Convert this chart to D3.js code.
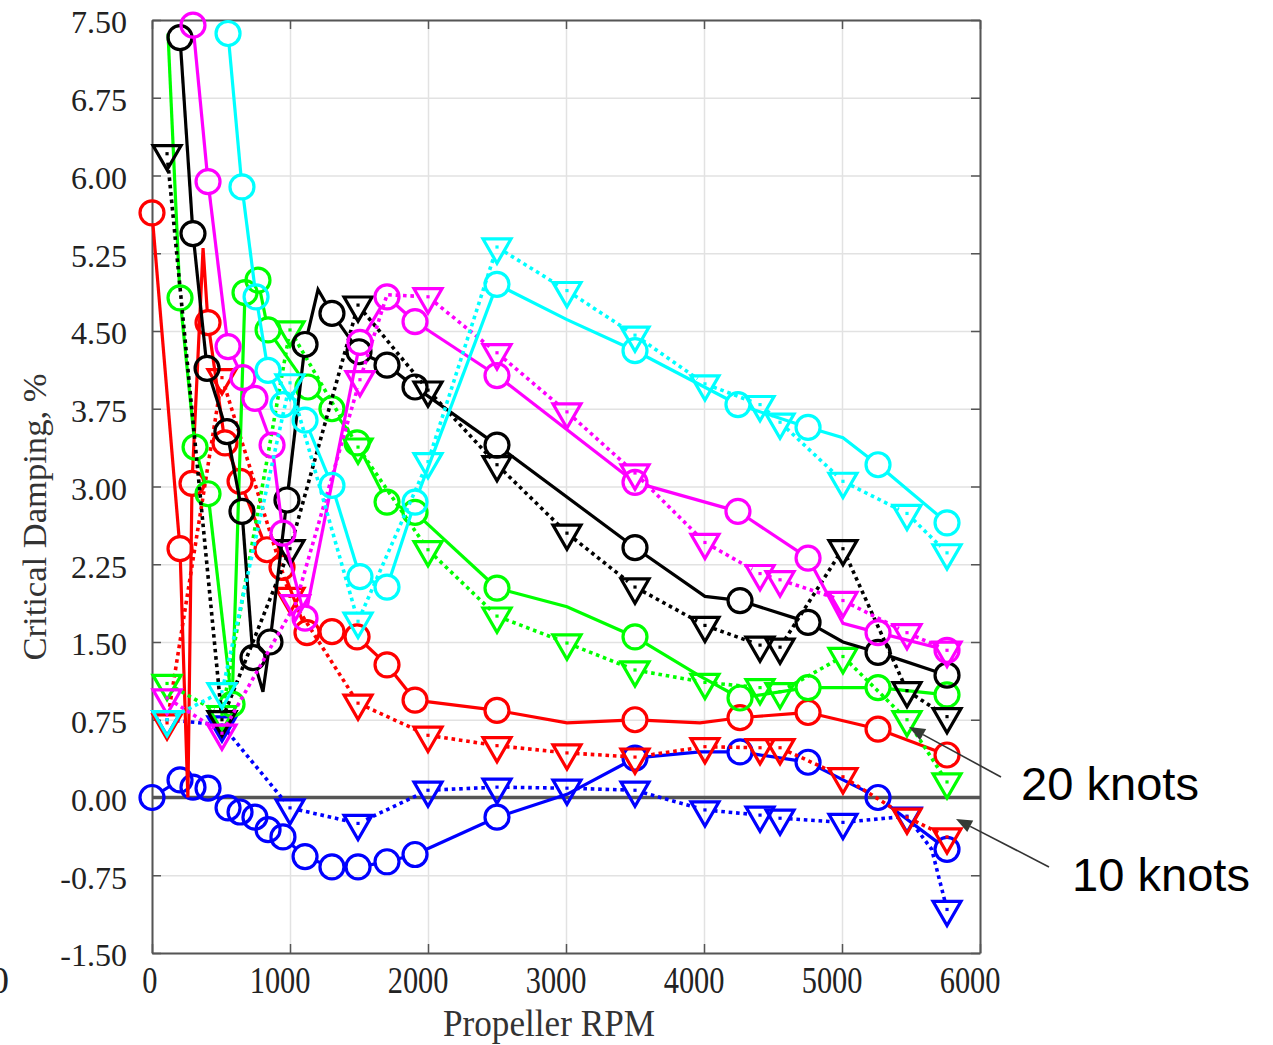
<!DOCTYPE html>
<html><head><meta charset="utf-8">
<script src="https://cdn.jsdelivr.net/npm/d3@7"></script>
<style>body{margin:0;background:#fff} svg{display:block}</style>
</head><body><svg id="c" width="1273" height="1045"></svg>
<script>
// ---------------- data ----------------
const xTicks = [0, 1000, 2000, 3000, 4000, 5000, 6000];
const yTicks = [-1.5, -0.75, 0, 0.75, 1.5, 2.25, 3, 3.75, 4.5, 5.25, 6, 6.75, 7.5];
// each point: [propeller RPM, critical damping %, marker drawn (1) / not (0)]
const blueSolid = [[0,0.00,1],[203,0.17,1],[297,0.10,1],[406,0.09,1],[551,-0.10,1],[638,-0.14,1],[746,-0.19,1],[841,-0.31,1],[949,-0.38,1],[1109,-0.57,1],[1304,-0.67,1],[1493,-0.67,1],[1703,-0.62,1],[1906,-0.55,1],[2500,-0.19,1],[3007,0.03,0],[3500,0.38,1],[3971,0.44,0],[4261,0.44,1],[4754,0.34,1],[5261,0.00,1],[5761,-0.50,1]];
const blueDotted = [[109,0.75,1],[507,0.70,1],[1000,-0.10,1],[1493,-0.25,1],[2000,0.07,1],[2500,0.10,1],[3007,0.09,1],[3500,0.07,1],[4007,-0.12,1],[4406,-0.17,1],[4551,-0.20,1],[5007,-0.24,1],[5471,-0.18,1],[5650,-0.50,0],[5761,-1.08,1]];
const redSolid = [[0,5.64,1],[203,2.40,1],[260,0.00,0],[290,3.03,1],[370,5.30,0],[406,4.58,1],[529,3.42,1],[638,3.05,1],[833,2.39,1],[942,2.22,1],[1123,1.59,1],[1304,1.60,1],[1486,1.55,1],[1703,1.28,1],[1906,0.94,1],[2500,0.84,1],[3007,0.72,0],[3500,0.75,1],[3971,0.72,0],[4261,0.77,1],[4754,0.82,1],[5261,0.66,1],[5761,0.41,1]];
const redDotted = [[109,0.72,1],[507,4.05,1],[1000,1.94,1],[1493,0.91,1],[2000,0.60,1],[2500,0.50,1],[3007,0.43,1],[3500,0.39,1],[4007,0.49,1],[4406,0.48,1],[4551,0.48,1],[5007,0.20,1],[5471,-0.19,1],[5761,-0.38,1]];
const greenSolid = [[116,7.37,0],[203,4.82,1],[312,3.38,1],[406,2.93,1],[580,0.90,1],[674,4.87,1],[768,4.99,1],[841,4.51,1],[1130,3.96,1],[1304,3.75,1],[1486,3.42,1],[1703,2.85,1],[1906,2.75,1],[2500,2.02,1],[3007,1.84,0],[3500,1.55,1],[3971,1.17,0],[4261,0.96,1],[4754,1.06,1],[5261,1.06,1],[5761,0.99,1]];
const greenDotted = [[109,1.10,1],[507,0.80,1],[1000,4.51,1],[1493,3.38,1],[2000,2.39,1],[2500,1.75,1],[3007,1.49,1],[3500,1.23,1],[4007,1.11,1],[4406,1.06,1],[4551,1.02,1],[5007,1.36,1],[5471,0.75,1],[5761,0.15,1]];
const blackSolid = [[203,7.33,1],[297,5.44,1],[399,4.14,1],[543,3.53,1],[652,2.76,1],[732,1.35,1],[804,1.02,0],[855,1.50,1],[978,2.87,1],[1109,4.37,1],[1203,4.90,0],[1304,4.67,1],[1500,4.30,1],[1703,4.17,1],[1906,3.96,1],[2500,3.40,1],[3500,2.41,1],[4007,1.94,0],[4261,1.90,1],[4754,1.69,1],[5007,1.50,0],[5261,1.40,1],[5761,1.18,1]];
const blackDotted = [[109,6.21,1],[507,0.75,1],[1000,2.40,1],[1493,4.75,1],[2000,3.93,1],[2500,3.21,1],[3007,2.55,1],[3500,2.03,1],[4007,1.66,1],[4406,1.47,1],[4551,1.45,1],[5007,2.40,1],[5471,1.03,1],[5761,0.78,1]];
const magentaSolid = [[297,7.45,1],[406,5.94,1],[551,4.35,1],[659,4.05,1],[746,3.85,1],[870,3.40,1],[949,2.55,1],[1109,1.73,1],[1507,4.39,1],[1703,4.83,1],[1906,4.59,1],[2500,4.07,1],[3500,3.04,1],[4246,2.76,1],[4754,2.31,1],[5007,1.68,0],[5261,1.59,1],[5761,1.42,1]];
const magentaDotted = [[109,0.96,1],[507,0.62,1],[1040,1.87,1],[1507,4.03,1],[1703,4.85,0],[2000,4.83,1],[2500,4.29,1],[3007,3.72,1],[3500,3.13,1],[4007,2.46,1],[4406,2.16,1],[4551,2.10,1],[5007,1.90,1],[5471,1.59,1],[5761,1.42,1]];
const cyanSolid = [[551,7.37,1],[652,5.89,1],[754,4.83,1],[841,4.12,1],[949,3.79,1],[1109,3.64,1],[1304,3.01,1],[1507,2.13,1],[1703,2.03,1],[1906,2.85,1],[2500,4.95,1],[3007,4.61,0],[3500,4.31,1],[4246,3.79,1],[4754,3.57,1],[5007,3.47,0],[5261,3.21,1],[5761,2.65,1]];
const cyanDotted = [[109,0.75,1],[507,1.02,1],[1000,4.00,1],[1493,1.70,1],[2000,3.24,1],[2500,5.31,1],[3007,4.89,1],[3500,4.46,1],[4007,3.99,1],[4406,3.79,1],[4551,3.62,1],[5007,3.05,1],[5471,2.74,1],[5761,2.36,1]];

const series = [
  {data: blueSolid, color: '#0000ff', dotted: false},
  {data: blueDotted, color: '#0000ff', dotted: true},
  {data: redSolid, color: '#ff0000', dotted: false},
  {data: redDotted, color: '#ff0000', dotted: true},
  {data: greenSolid, color: '#00ff00', dotted: false},
  {data: greenDotted, color: '#00ff00', dotted: true},
  {data: blackSolid, color: '#000000', dotted: false},
  {data: blackDotted, color: '#000000', dotted: true},
  {data: magentaSolid, color: '#ff00ff', dotted: false},
  {data: magentaDotted, color: '#ff00ff', dotted: true},
  {data: cyanSolid, color: '#00ffff', dotted: false},
  {data: cyanDotted, color: '#00ffff', dotted: true}
];
const annotations = [
  {label: '20 knots', tx: 1021, ty: 800, from: [1001, 777], to: [909, 727]},
  {label: '10 knots', tx: 1072, ty: 891, from: [1049, 867], to: [956, 819]}
];

// ---------------- chart ----------------
const svg = d3.select('#c');
const L = 152, R = 980, T = 20, B = 953;
const x = d3.scaleLinear().domain([0, 6000]).range([L, R]);
const y = d3.scaleLinear().domain([-1.5, 7.5]).range([B, T]);
const serif = "'Liberation Serif','Times New Roman',serif";

// grid
svg.append('g').attr('transform', `translate(0,${B})`)
  .call(d3.axisBottom(x).tickValues(xTicks).tickSize(-(B - T)).tickFormat(''))
  .call(g => g.select('.domain').remove())
  .selectAll('line').attr('stroke', '#e2e2e2').attr('stroke-width', 1.5);
svg.append('g').attr('transform', `translate(${L},0)`)
  .call(d3.axisLeft(y).tickValues(yTicks).tickSize(-(R - L)).tickFormat(''))
  .call(g => g.select('.domain').remove())
  .selectAll('line').attr('stroke', '#e2e2e2').attr('stroke-width', 1.5);

// axes (ticks pointing inward)
const frameCol = '#555';
const axes = svg.append('g');
const gx = axes.append('g').attr('transform', `translate(0,${B})`)
  .call(d3.axisBottom(x).tickValues(xTicks).tickSize(-9).tickSizeOuter(0).tickPadding(13).tickFormat(d => String(d)));
gx.selectAll('text').attr('font-family', serif).attr('font-size', 38).attr('fill', '#222')
  .attr('transform', 'scale(0.8,1)')
  .attr('x', d => -(String(d).length * 2.6) / 0.8);
const gy = axes.append('g').attr('transform', `translate(${L},0)`)
  .call(d3.axisLeft(y).tickValues(yTicks).tickSize(-9).tickSizeOuter(0).tickPadding(25).tickFormat(d => d.toFixed(2)));
gy.selectAll('text').attr('font-family', serif).attr('font-size', 32).attr('fill', '#222').attr('dy', '0.4em');
axes.append('g').attr('transform', `translate(0,${T})`)
  .call(d3.axisTop(x).tickValues(xTicks).tickSize(-9).tickSizeOuter(0).tickFormat(''));
axes.append('g').attr('transform', `translate(${R},0)`)
  .call(d3.axisRight(y).tickValues(yTicks).tickSize(-9).tickSizeOuter(0).tickFormat(''));
axes.selectAll('.domain').attr('stroke', frameCol).attr('stroke-width', 2);
axes.selectAll('.tick line').attr('stroke', frameCol).attr('stroke-width', 1.5);

// clipped "0" from a neighbouring panel at the far left (cut off, as in the source)
svg.append('text').attr('x', 9).attr('y', 993).attr('text-anchor', 'end')
  .attr('font-family', serif).attr('font-size', 38).attr('fill', '#222').text('0');

// axis titles
svg.append('text').attr('transform', 'translate(46,517) rotate(-90)').attr('text-anchor', 'middle')
  .attr('font-family', serif).attr('font-size', 34).attr('fill', '#333')
  .attr('textLength', 287).attr('lengthAdjust', 'spacingAndGlyphs').text('Critical Damping, %');
svg.append('text').attr('x', 549).attr('y', 1036).attr('text-anchor', 'middle')
  .attr('font-family', serif).attr('font-size', 37).attr('fill', '#333')
  .attr('textLength', 212).attr('lengthAdjust', 'spacingAndGlyphs').text('Propeller RPM');

// zero line
svg.append('line').attr('x1', L).attr('x2', R).attr('y1', y(0)).attr('y2', y(0))
  .attr('stroke', '#555').attr('stroke-width', 3.5);

// series
const lineGen = d3.line();
function shorten(c, i, j, d) {
  const dx = c[j][0] - c[i][0], dy = c[j][1] - c[i][1], len = Math.hypot(dx, dy);
  if (len < 1e-6) return;
  const k = Math.min(d, len) / len;
  c[i] = [c[i][0] + dx * k, c[i][1] + dy * k];
}
const R_CIRC = 12, TRI = 28;
series.forEach(s => {
  const g = svg.append('g');
  const pts = s.data.map(d => ({px: x(d[0]), py: y(d[1]), m: d[2]}));
  const gap = s.dotted ? 9 : R_CIRC;
  const runs = [];
  let run = [pts[0]];
  for (let i = 1; i < pts.length; i++) {
    run.push(pts[i]);
    if (pts[i].m) { runs.push(run); run = [pts[i]]; }
  }
  if (run.length > 1) runs.push(run);
  runs.forEach(r => {
    const c = r.map(p => [p.px, p.py]);
    if (c.length === 2) {
      const len = Math.hypot(c[1][0] - c[0][0], c[1][1] - c[0][1]);
      const need = (r[0].m ? gap : 0) + (r[1].m ? gap : 0);
      if (len <= need) return;
    }
    if (r[0].m) shorten(c, 0, 1, gap);
    if (r[r.length - 1].m) shorten(c, c.length - 1, c.length - 2, gap);
    g.append('path').attr('d', lineGen(c)).attr('fill', 'none')
      .attr('stroke', s.color).attr('stroke-width', s.dotted ? 3.6 : 3.2)
      .attr('stroke-dasharray', s.dotted ? '3.6,3.8' : null)
      .attr('stroke-linejoin', 'miter');
  });
  const marks = pts.filter(p => p.m);
  if (s.dotted) {
    const h = TRI * Math.sqrt(3) / 2, w = TRI / 2;
    const tri = `M${-w},${-h / 3}L${w},${-h / 3}L0,${2 * h / 3}Z`;
    g.selectAll('path.mk').data(marks).join('path').attr('class', 'mk')
      .attr('transform', p => `translate(${p.px},${p.py})`).attr('d', tri)
      .attr('fill', 'none').attr('stroke', s.color).attr('stroke-width', 3.2).attr('stroke-linejoin', 'miter');
    g.selectAll('rect.dot').data(marks).join('rect').attr('class', 'dot')
      .attr('x', p => p.px - 1.6).attr('y', p => p.py - 1.6).attr('width', 3.2).attr('height', 3.2)
      .attr('fill', s.color);
  } else {
    g.selectAll('circle').data(marks).join('circle')
      .attr('cx', p => p.px).attr('cy', p => p.py).attr('r', R_CIRC)
      .attr('fill', 'none').attr('stroke', s.color).attr('stroke-width', 3.2);
  }
});

// annotations
const sans = "'Liberation Sans',Arial,sans-serif";
annotations.forEach(a => {
  svg.append('text').attr('x', a.tx).attr('y', a.ty).attr('font-family', sans).attr('font-size', 46)
    .attr('fill', '#000').attr('textLength', 178).attr('lengthAdjust', 'spacingAndGlyphs').text(a.label);
  const dx = a.to[0] - a.from[0], dy = a.to[1] - a.from[1], len = Math.hypot(dx, dy);
  const ux = dx / len, uy = dy / len, hl = 16, hw = 6.5;
  const bx = a.to[0] - ux * hl, by = a.to[1] - uy * hl;
  svg.append('line').attr('x1', a.from[0]).attr('y1', a.from[1]).attr('x2', bx).attr('y2', by)
    .attr('stroke', '#333').attr('stroke-width', 1.6);
  svg.append('path').attr('d', `M${a.to[0]},${a.to[1]}L${bx - uy * hw},${by + ux * hw}L${bx + uy * hw},${by - ux * hw}Z`)
    .attr('fill', '#353b35');
});
</script></body></html>
